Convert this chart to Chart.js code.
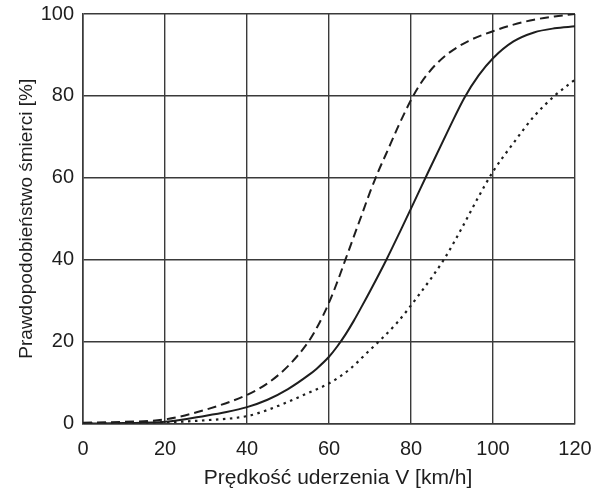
<!DOCTYPE html>
<html>
<head>
<meta charset="utf-8">
<script src="https://cdn.jsdelivr.net/npm/chart.js@4/dist/chart.umd.min.js"></script>
<style>
  html, body { margin: 0; padding: 0; background: #fff; }
  #wrap { width: 595px; height: 493px; }
</style>
</head>
<body>
<div id="wrap"><canvas id="wykres"></canvas></div>
<script>
// predkosc uderzenia [km/h] -> prawdopodobienstwo smierci [%]
const speedsDashed = [0, 10, 20, 30, 40, 45, 50, 55, 57, 60, 62, 64, 66, 68, 70, 72, 74, 77, 80, 82, 84, 86, 89, 94, 100, 105, 110, 115, 120];
const probDashed = [0.2, 0.4, 1.0, 3.4, 7.0, 9.8, 14, 20, 23.3, 29.5, 34.5, 40, 45.5, 51, 56.5, 61.5, 66, 72.8, 79, 82.5, 85.3, 87.6, 90.3, 93.4, 95.8, 97.4, 98.6, 99.4, 100];

const speedsSolid = [0, 10, 20, 30, 35, 40, 45, 50, 55, 57, 60, 62, 64, 66, 68, 70, 74, 77.3, 81, 84, 89.5, 93, 96.5, 100, 105, 110, 115, 120];
const probSolid = [0, 0.1, 0.4, 1.9, 2.8, 4.0, 5.8, 8.4, 11.8, 13.4, 16.3, 18.8, 21.7, 25, 28.6, 32.3, 40, 46.8, 54.6, 61, 72.5, 79.5, 85, 89.2, 93.3, 95.5, 96.5, 97];

const speedsDotted = [0, 10, 20, 30, 40, 45, 50, 55, 60, 65, 69, 76.5, 82, 88, 92, 96, 100, 105, 110, 115, 120];
const probDotted = [0, 0.05, 0.3, 0.8, 1.8, 3.3, 5.3, 7.5, 9.8, 13.2, 17, 24.5, 31.5, 40, 47, 54.5, 61.5, 68.5, 75, 80, 84];

const xTicks = [0, 20, 40, 60, 80, 100, 120];
const yTicks = [0, 20, 40, 60, 80, 100];
const xTitle = "Prędkość uderzenia V [km/h]";
const yTitle = "Prawdopodobieństwo śmierci [%]";

function toPoints(xs, ys) {
  return xs.map((x, i) => ({ x: x, y: ys[i] }));
}

// scales should not push the plot area inwards for their end labels
function noLabelPadding(scale) {
  scale.paddingLeft = 0;
  scale.paddingRight = 0;
  scale.paddingTop = 0;
  scale.paddingBottom = 0;
}

const ink = "#1e1e1e";
const gridColor = "#3a3a3a";
Chart.defaults.font.family = "'Liberation Sans', Arial, sans-serif";
Chart.defaults.color = ink;

// x axis title sits a bit right of the plot centre in the original
const xTitlePlugin = {
  id: "xTitle",
  afterDraw(chart) {
    const ctx = chart.ctx;
    ctx.save();
    ctx.font = "21px 'Liberation Sans', Arial, sans-serif";
    ctx.fillStyle = ink;
    ctx.textAlign = "center";
    ctx.textBaseline = "middle";
    ctx.fillText(xTitle, 338, 478);
    ctx.restore();
  },
};

let chart = new Chart(document.getElementById("wykres"), {
  type: "scatter",
  data: {
    datasets: [
      {
        data: toPoints(speedsDashed, probDashed),
        borderColor: ink,
        borderWidth: 2,
        borderDash: [9, 5],
      },
      {
        data: toPoints(speedsSolid, probSolid),
        borderColor: ink,
        borderWidth: 2,
      },
      {
        data: toPoints(speedsDotted, probDotted),
        borderColor: ink,
        borderWidth: 2.2,
        borderDash: [2.5, 4.5],
      },
    ],
  },
  plugins: [xTitlePlugin],
  options: {
    responsive: true,
    maintainAspectRatio: false,
    animation: false,
    showLine: true,
    elements: {
      point: { radius: 0, hoverRadius: 0 },
      line: { cubicInterpolationMode: "monotone", fill: false },
    },
    layout: {
      autoPadding: false,
      padding: { left: 0, top: 14, right: 20, bottom: 0 },
    },
    plugins: {
      legend: { display: false },
      tooltip: { enabled: false },
    },
    scales: {
      x: {
        type: "linear",
        min: 0,
        max: 120,
        afterBuildTicks: (scale) => {
          scale.ticks = xTicks.map((v) => ({ value: v }));
        },
        afterFit: (scale) => {
          scale.height = 69.5;
          noLabelPadding(scale);
        },
        grid: {
          color: gridColor,
          lineWidth: 1.4,
          drawTicks: false,
        },
        border: { color: gridColor, width: 1.6 },
        ticks: {
          padding: 14,
          font: { size: 20 },
          maxRotation: 0,
        },
        title: { display: false },
      },
      y: {
        min: 0,
        max: 100,
        afterBuildTicks: (scale) => {
          scale.ticks = yTicks.map((v) => ({ value: v }));
        },
        afterFit: (scale) => {
          scale.width = 83;
          noLabelPadding(scale);
        },
        grid: {
          color: gridColor,
          lineWidth: 1.4,
          drawTicks: false,
        },
        border: { color: gridColor, width: 1.6 },
        ticks: {
          padding: 9,
          font: { size: 20 },
        },
        title: {
          display: true,
          text: yTitle,
          font: { size: 19 },
          padding: { top: 15, bottom: 0 },
        },
      },
    },
  },
});
</script>
</body>
</html>
